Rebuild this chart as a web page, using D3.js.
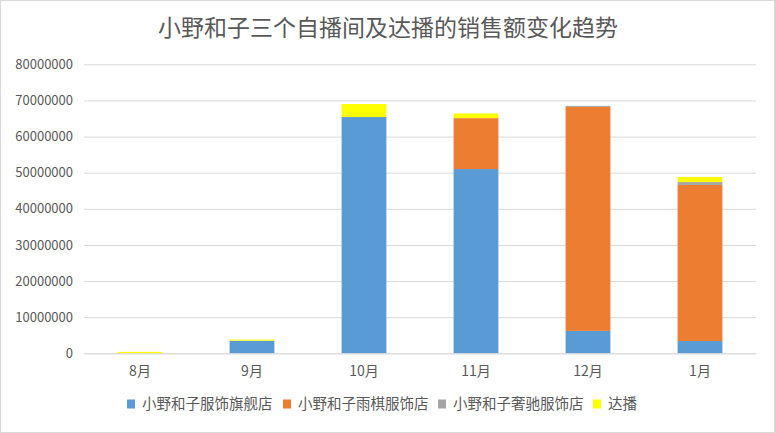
<!DOCTYPE html>
<html>
<head>
<meta charset="utf-8">
<script src="https://cdn.jsdelivr.net/npm/d3@7"></script>
<style>
  body { margin: 0; background: #fff; }
  text { font-family: "Noto Sans CJK SC", "Noto Sans", sans-serif; fill: #595959; }
</style>
</head>
<body>
<svg id="chart"></svg>
<script>
// chart data
var months = ["8月", "9月", "10月", "11月", "12月", "1月"];
var seriesNames = ["小野和子服饰旗舰店", "小野和子雨棋服饰店", "小野和子奢驰服饰店", "达播"];
var flagship = [0, 3500000, 65400000, 51000000, 6200000, 3400000];
var yuqi = [0, 0, 0, 14100000, 62000000, 43200000];
var shechi = [0, 0, 0, 0, 300000, 800000];
var daren = [400000, 300000, 3600000, 1300000, 0, 1400000];
var yTicks = [0, 10000000, 20000000, 30000000, 40000000, 50000000, 60000000, 70000000, 80000000];
var colors = ["#5B9BD5", "#ED7D31", "#A5A5A5", "#FFFF00"];

function main() {
    const W = 775, H = 433;
    const svg = d3.select('#chart').attr('width', W).attr('height', H);

    // outer border
    svg.append('rect')
      .attr('x', 0.5).attr('y', 0.5)
      .attr('width', W - 1).attr('height', H - 1)
      .attr('fill', '#fff').attr('stroke', '#d9d9d9');

    // title
    svg.append('text')
      .attr('x', 388).attr('y', 36)
      .attr('text-anchor', 'middle')
      .style('font-size', '23px')
      .text('小野和子三个自播间及达播的销售额变化趋势');

    // build rows for the stack
    const keys = ["flagship", "yuqi", "shechi", "daren"];
    const data = months.map(function (m, i) {
        return { month: m, flagship: flagship[i], yuqi: yuqi[i], shechi: shechi[i], daren: daren[i] };
    });
    const stacked = d3.stack().keys(keys)(data);

    const xScale = d3.scaleBand()
      .domain(months)
      .range([84, 756])
      .paddingInner(0.6)
      .paddingOuter(0.3);

    const yScale = d3.scaleLinear()
      .domain([0, 80000000])
      .range([353.3, 64.3]);

    // gridlines + y labels
    const yAxis = d3.axisLeft(yScale)
      .tickValues(yTicks)
      .tickSize(-(756 - 84))
      .tickPadding(11)
      .tickFormat(d3.format('d'));

    const gy = svg.append('g')
      .attr('transform', 'translate(84,0)')
      .call(yAxis);
    gy.select('.domain').remove();
    gy.selectAll('.tick line').attr('stroke', '#d9d9d9');
    gy.selectAll('.tick text')
      .style('font-size', '13px')
      .attr('fill', '#595959');

    // bars
    svg.append('g').selectAll('g')
      .data(stacked)
      .enter()
      .append('g')
      .attr('fill', function (d, i) { return colors[i]; })
      .selectAll('rect')
      .data(function (d) { return d; })
      .enter()
      .append('rect')
      .attr('x', function (d) { return xScale(d.data.month); })
      .attr('y', function (d) { return yScale(d[1]); })
      .attr('width', xScale.bandwidth())
      .attr('height', function (d) { return yScale(d[0]) - yScale(d[1]); });

    // x axis
    const xAxis = d3.axisBottom(xScale).tickSize(0).tickPadding(13);
    const gx = svg.append('g')
      .attr('transform', 'translate(0,353.3)')
      .call(xAxis);
    gx.select('.domain').attr('stroke', '#d9d9d9');
    gx.selectAll('.tick text')
      .style('font-size', '14px')
      .attr('fill', '#595959');

    // legend
    const legendX = [127, 283, 438, 593];
    const legend = svg.append('g').selectAll('g')
      .data(seriesNames)
      .enter()
      .append('g')
      .attr('transform', function (d, i) { return 'translate(' + legendX[i] + ',404)'; });
    legend.append('rect')
      .attr('x', 0).attr('y', -4.5)
      .attr('width', 8).attr('height', 9)
      .attr('fill', function (d, i) { return colors[i]; });
    legend.append('text')
      .attr('x', 15).attr('y', 5)
      .style('font-size', '14.5px')
      .text(function (d) { return d; });
}
main();
</script>
</body>
</html>
